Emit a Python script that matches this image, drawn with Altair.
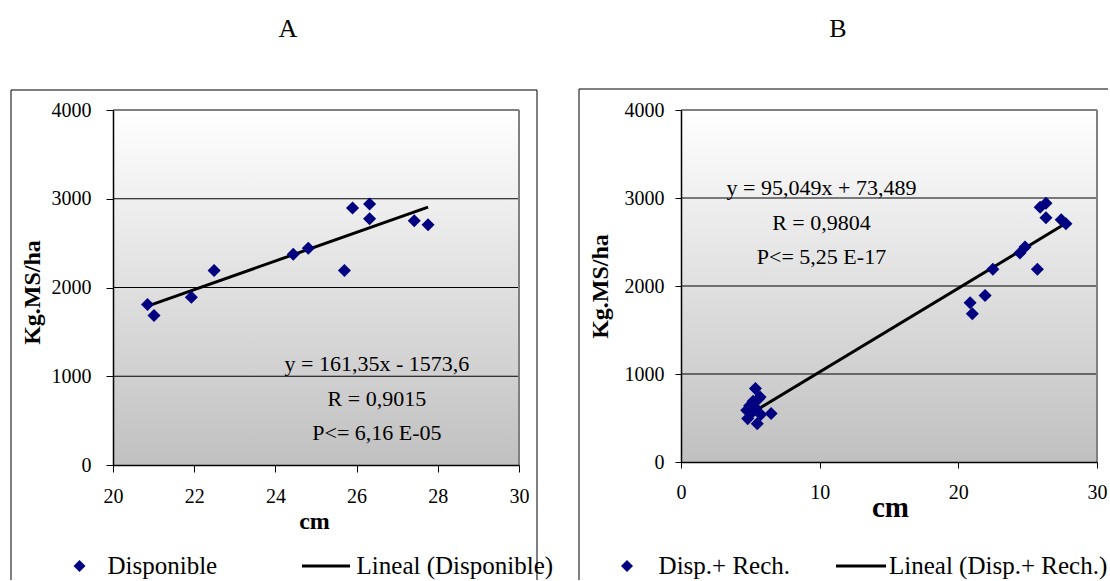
import altair as alt
import pandas as pd

# ---- data ----
disp_cm = [20.85, 21.01, 21.93, 22.49, 24.44, 24.81, 25.70, 25.90, 26.32, 26.32, 27.42, 27.76]
disp_kg = [1809, 1685, 1891, 2191, 2375, 2442, 2191, 2895, 2940, 2775, 2753, 2708]

rech_cm = [4.74, 4.81, 4.95, 5.10, 5.20, 5.37, 5.40, 5.50, 5.60, 5.70, 5.75, 6.50]
rech_kg = [588, 493, 640, 560, 690, 834, 610, 436, 720, 739, 540, 550]

fit_a = (161.35, -1573.6)
fit_b = (95.049, 73.489)

panel_titles = ["A", "B"]
eq_a = ["y = 161,35x - 1573,6", "R = 0,9015", "P<= 6,16 E-05"]
eq_b = ["y = 95,049x + 73,489", "R = 0,9804", "P<= 5,25 E-17"]
legend_a = ["Disponible", "Lineal (Disponible)"]
legend_b = ["Disp.+ Rech.", "Lineal (Disp.+ Rech.)"]

y_ticks = [0, 1000, 2000, 3000, 4000]
grid_vals = [1000, 2000, 3000]
x_ticks_a = [20, 22, 24, 26, 28, 30]
x_ticks_b = [0, 10, 20, 30]

NAVY = "#000080"
FONT = "Liberation Serif"
BOTTOM = 470  # lowest pixel (relative to plot top) that is drawn


def panel(xs, ys, fit, xdom, xticks, w, h, eq, eq_pos, title, title_x, legend, leg,
          box, ytitle_y, xtitle_x, xtitle_y, xtitle_size, ylabel_pad, ytick):
    xscale = alt.Scale(domain=xdom, nice=False, zero=False)
    yscale = alt.Scale(domain=[0, 4000], nice=False)
    one = pd.DataFrame({"k": [0]})

    xaxis = alt.Axis(values=xticks, tickSize=ytick, tickColor="black", tickWidth=1,
                     domainColor="black", domainWidth=1.5, labelFontSize=20,
                     labelFont=FONT, titleFont=FONT,
                     labelPadding=14, labelColor="black", labelFlush=False,
                     labelOverlap=False, format="d", grid=False, zindex=1,
                     title="cm", titleFontSize=xtitle_size, titleFontWeight="bold",
                     titleColor="black", titleX=xtitle_x, titleY=xtitle_y,
                     titleBaseline="alphabetic", titleAlign="center")
    yaxis = alt.Axis(values=y_ticks, tickSize=ytick, tickColor="black", tickWidth=1,
                     domainColor="black", domainWidth=1.5, labelFontSize=20,
                     labelFont=FONT, titleFont=FONT,
                     labelPadding=ylabel_pad, labelColor="black", format="d",
                     grid=False, zindex=1, title="Kg.MS/ha", titleFontSize=24,
                     titleFontWeight="bold", titleColor="black", titleX=-81,
                     titleY=ytitle_y, titleAngle=270, titleBaseline="middle",
                     titleAlign="center")

    def X():
        return alt.X("cm:Q", scale=xscale, axis=xaxis)

    def Y():
        return alt.Y("kg:Q", scale=yscale, axis=yaxis)

    # tiny white anchor fixing the top-left corner of the page
    anchor = alt.Chart(one).mark_rect(color="white").encode(
        x=alt.value(-113), x2=alt.value(-112), y=alt.value(-110), y2=alt.value(-109))

    # outer chart-area frame
    frame = [
        alt.Chart(one).mark_rule(color="black", strokeWidth=1).encode(
            x=alt.value(box[0]), y=alt.value(box[2]), y2=alt.value(BOTTOM)),
        alt.Chart(one).mark_rule(color="black", strokeWidth=1).encode(
            x=alt.value(box[0]), x2=alt.value(box[1]), y=alt.value(box[2])),
    ]
    if box[3]:
        frame.append(alt.Chart(one).mark_rule(color="black", strokeWidth=1).encode(
            x=alt.value(box[1]), y=alt.value(box[2]), y2=alt.value(BOTTOM)))

    grad = alt.Chart(one).mark_rect(
        fill=alt.LinearGradient(
            gradient="linear",
            stops=[alt.GradientStop(color="#ffffff", offset=0),
                   alt.GradientStop(color="#c0c0c0", offset=1)],
            x1=0, x2=0, y1=0, y2=1),
    ).encode(x=alt.value(0), x2=alt.value(w), y=alt.value(0), y2=alt.value(h))

    plot_border = [
        alt.Chart(one).mark_rule(color="#808080", strokeWidth=2).encode(
            x=alt.value(0), x2=alt.value(w), y=alt.value(0)),
        alt.Chart(one).mark_rule(color="#808080", strokeWidth=2).encode(
            x=alt.value(w), y=alt.value(0), y2=alt.value(h)),
    ]

    grid = alt.Chart(pd.DataFrame({"kg": grid_vals})).mark_rule(
        color="black", strokeWidth=1).encode(y=Y())

    lo, hi = min(xs), max(xs)
    line_df = pd.DataFrame({"cm": [lo, hi], "kg": [fit[0] * lo + fit[1], fit[0] * hi + fit[1]]})

    line = alt.Chart(line_df).mark_line(color="black", strokeWidth=3).encode(x=X(), y=Y())

    pts = alt.Chart(pd.DataFrame({"cm": xs, "kg": ys})).mark_point(
        shape="diamond", filled=True, size=170, color=NAVY, opacity=1).encode(x=X(), y=Y())

    eq_txt = alt.Chart(pd.DataFrame({"cm": [eq_pos[0]], "kg": [eq_pos[1]]})).mark_text(
        font=FONT, fontSize=22, align="center", baseline="alphabetic", lineHeight=34.5,
        color="black").encode(x=X(), y=Y(), text=alt.value(eq))

    ttl = alt.Chart(one).mark_text(font=FONT, fontSize=26, align="center",
                                   baseline="alphabetic", color="black").encode(
        x=alt.value(title_x), y=alt.value(-73), text=alt.value(title))

    leg_pt = alt.Chart(one).mark_point(shape="diamond", filled=True, size=144, color=NAVY,
                                       opacity=1).encode(
        x=alt.value(leg[0]), y=alt.value(456))
    leg_t1 = alt.Chart(one).mark_text(font=FONT, fontSize=25, align="left",
                                      baseline="middle", color="black").encode(
        x=alt.value(leg[1]), y=alt.value(456), text=alt.value(legend[0]))
    leg_ln = alt.Chart(one).mark_rule(color="black", strokeWidth=3).encode(
        x=alt.value(leg[2]), x2=alt.value(leg[3]), y=alt.value(456))
    leg_t2 = alt.Chart(one).mark_text(font=FONT, fontSize=25, align="left",
                                      baseline="middle", color="black").encode(
        x=alt.value(leg[4]), y=alt.value(456), text=alt.value(legend[1]))

    return alt.layer(anchor, grad, grid, *plot_border, *frame, line, pts, eq_txt, ttl,
                     leg_pt, leg_t1, leg_ln, leg_t2).properties(width=w, height=h)


pa = panel(disp_cm, disp_kg, fit_a, [20, 30], x_ticks_a, 406, 355, eq_a, (26.5, 1059),
           panel_titles[0], 175, legend_a, (-33.5, -5.5, 189, 237, 243.6),
           (-102, 424, -20, True), 182, 201, 63, 24, 15, 7)

pb = panel(disp_cm + rech_cm, disp_kg + rech_kg, fit_b, [0, 30], x_ticks_b, 416, 352, eq_b,
           (10.13, 3034), panel_titles[1], 157, legend_b, (-54, -22.4, 155, 205, 208),
           (-102, 427, -21, False), 176, 209, 54, 29, 11, 6)

chart = alt.hconcat(pa, pb, spacing=162, bounds="flush").properties(
    padding=0
).configure(font=FONT).configure_view(stroke=None)

chart.save("out.html", embed_options={"renderer": "svg", "actions": False})
